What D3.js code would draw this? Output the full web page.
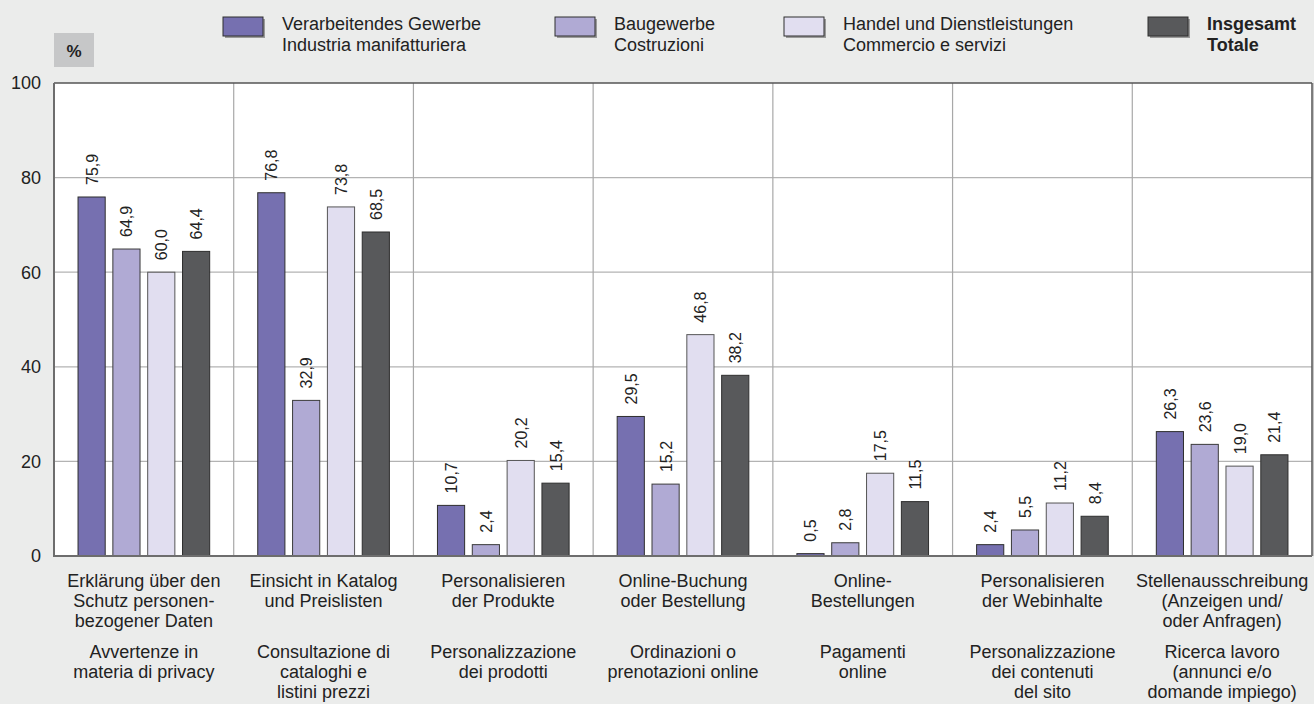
<!DOCTYPE html>
<meta charset="UTF-8">
<html>
<head>
<script src="https://d3js.org/d3.v7.min.js"></script>
<style>
  body { margin: 0; background: #ebeceb; }
  svg { display: block; font-family: "Liberation Sans", Arial, sans-serif; }
</style>
</head>
<body>
<svg id="chart" width="1314" height="704"></svg>
<script>
// categories: German lines, Italian lines
var catsDe = [
  ["Erklärung über den", "Schutz personen-", "bezogener Daten"],
  ["Einsicht in Katalog", "und Preislisten"],
  ["Personalisieren", "der Produkte"],
  ["Online-Buchung", "oder Bestellung"],
  ["Online-", "Bestellungen"],
  ["Personalisieren", "der Webinhalte"],
  ["Stellenausschreibung", "(Anzeigen und/", "oder Anfragen)"]
];
var catsIt = [
  ["Avvertenze in", "materia di privacy"],
  ["Consultazione di", "cataloghi e", "listini prezzi"],
  ["Personalizzazione", "dei prodotti"],
  ["Ordinazioni o", "prenotazioni online"],
  ["Pagamenti", "online"],
  ["Personalizzazione", "dei contenuti", "del sito"],
  ["Ricerca lavoro", "(annunci e/o", "domande impiego)"]
];

var seriesNames = [
  ["Verarbeitendes Gewerbe", "Industria manifatturiera"],
  ["Baugewerbe", "Costruzioni"],
  ["Handel und Dienstleistungen", "Commercio e servizi"],
  ["Insgesamt", "Totale"]
];
var seriesColors = ["#7670b0", "#b0aad4", "#e1def0", "#58595b"];
var seriesStroke = ["#2e2e2e", "#3a3a3a", "#555", "#2e2e2e"];

var industria = [75.9, 76.8, 10.7, 29.5, 0.5, 2.4, 26.3];
var costruzioni = [64.9, 32.9, 2.4, 15.2, 2.8, 5.5, 23.6];
var commercio = [60.0, 73.8, 20.2, 46.8, 17.5, 11.2, 19.0];
var totale = [64.4, 68.5, 15.4, 38.2, 11.5, 8.4, 21.4];
var series = [industria, costruzioni, commercio, totale];

var yTicks = [0, 20, 40, 60, 80, 100];

var svg = d3.select("#chart");
var plotL = 54, plotR = 1312, plotT = 83, plotB = 556;

var x0 = d3.scaleBand().domain(d3.range(catsDe.length)).range([plotL, plotR]).padding(0);
var x1 = d3.scaleBand().domain(d3.range(series.length)).range([0, x0.bandwidth()])
  .paddingInner(0.22).paddingOuter(0.69);
var y = d3.scaleLinear().domain([0, 100]).range([plotB, plotT]);

// plot background
svg.append("rect").attr("x", plotL).attr("y", plotT)
  .attr("width", plotR - plotL).attr("height", plotB - plotT)
  .attr("fill", "#fff");

// horizontal grid
svg.append("g").selectAll("line").data(yTicks.slice(1, -1)).enter().append("line")
  .attr("x1", plotL).attr("x2", plotR)
  .attr("y1", function(d) { return y(d); }).attr("y2", function(d) { return y(d); })
  .attr("stroke", "#b3b3b3").attr("stroke-width", 1.2);

// vertical separators
svg.append("g").selectAll("line").data(d3.range(1, catsDe.length)).enter().append("line")
  .attr("x1", function(i) { return x0(0) + i * x0.step(); })
  .attr("x2", function(i) { return x0(0) + i * x0.step(); })
  .attr("y1", plotT).attr("y2", plotB)
  .attr("stroke", "#a8a8a8").attr("stroke-width", 1.2);

// top and right border with light shadow
svg.append("line").attr("x1", plotR + 2).attr("x2", plotR + 2).attr("y1", plotT).attr("y2", plotB)
  .attr("stroke", "#b8b8b8").attr("stroke-width", 1.5);
svg.append("line").attr("x1", plotL).attr("x2", plotR).attr("y1", plotT).attr("y2", plotT)
  .attr("stroke", "#555").attr("stroke-width", 1.5);
svg.append("line").attr("x1", plotR).attr("x2", plotR).attr("y1", plotT).attr("y2", plotB)
  .attr("stroke", "#555").attr("stroke-width", 1.5);

// y axis labels
svg.append("g").selectAll("text").data(yTicks).enter().append("text")
  .attr("x", 41).attr("y", function(d) { return y(d); })
  .attr("dy", "0.36em").attr("text-anchor", "end")
  .attr("font-size", 18).attr("fill", "#222")
  .text(function(d) { return d; });

// bars
var groups = svg.append("g").selectAll("g").data(d3.range(catsDe.length)).enter().append("g")
  .attr("transform", function(i) { return "translate(" + x0(i) + ",0)"; });

groups.selectAll("rect").data(function(i) {
    return series.map(function(s, k) { return { k: k, v: s[i] }; });
  }).enter().append("rect")
  .attr("x", function(d) { return x1(d.k); })
  .attr("y", function(d) { return y(d.v); })
  .attr("width", x1.bandwidth())
  .attr("height", function(d) { return plotB - y(d.v); })
  .attr("fill", function(d) { return seriesColors[d.k]; })
  .attr("stroke", function(d) { return seriesStroke[d.k]; }).attr("stroke-width", 1);

groups.selectAll("text").data(function(i) {
    return series.map(function(s, k) { return { k: k, v: s[i] }; });
  }).enter().append("text")
  .attr("transform", function(d) {
    return "translate(" + (x1(d.k) + x1.bandwidth() / 2 + 6) + "," + (y(d.v) - 12) + ") rotate(-90)";
  })
  .attr("font-size", 16).attr("fill", "#222")
  .text(function(d) { return d.v.toFixed(1).replace(".", ","); });

// axes lines
svg.append("line").attr("x1", plotL).attr("x2", plotL).attr("y1", plotT).attr("y2", plotB + 1)
  .attr("stroke", "#6d6d6d").attr("stroke-width", 2);
svg.append("line").attr("x1", plotL).attr("x2", plotR).attr("y1", plotB).attr("y2", plotB)
  .attr("stroke", "#6d6d6d").attr("stroke-width", 2);

// category labels
var lab = svg.append("g").attr("font-size", 18).attr("fill", "#222").attr("text-anchor", "middle");
catsDe.forEach(function(lines, i) {
  var cx = x0(i) + x0.bandwidth() / 2;
  lines.forEach(function(t, j) {
    lab.append("text").attr("x", cx).attr("y", 587 + j * 20).text(t);
  });
  catsIt[i].forEach(function(t, j) {
    lab.append("text").attr("x", cx).attr("y", 658 + j * 20).text(t);
  });
});

// % box
svg.append("rect").attr("x", 54).attr("y", 33).attr("width", 40).attr("height", 34).attr("fill", "#c6c7c8");
svg.append("text").attr("x", 74).attr("y", 57).attr("text-anchor", "middle")
  .attr("font-size", 17).attr("font-weight", "bold").attr("fill", "#222").text("%");

// legend
var legX = [223, 555, 784, 1148];
var leg = svg.append("g");
seriesNames.forEach(function(names, k) {
  var g = leg.append("g").attr("transform", "translate(" + legX[k] + ",17)");
  g.append("rect").attr("x", 2).attr("y", 2).attr("width", 40).attr("height", 19).attr("fill", "#9a9a9a");
  g.append("rect").attr("x", 0).attr("y", 0).attr("width", 40).attr("height", 19)
    .attr("fill", seriesColors[k]).attr("stroke", "#2e2e2e").attr("stroke-width", 1);
  names.forEach(function(t, j) {
    g.append("text").attr("x", 59).attr("y", 13 + j * 21)
      .attr("font-size", 18).attr("fill", "#222")
      .attr("font-weight", k == 3 ? "bold" : "normal").text(t);
  });
});
</script>
</body>
</html>
